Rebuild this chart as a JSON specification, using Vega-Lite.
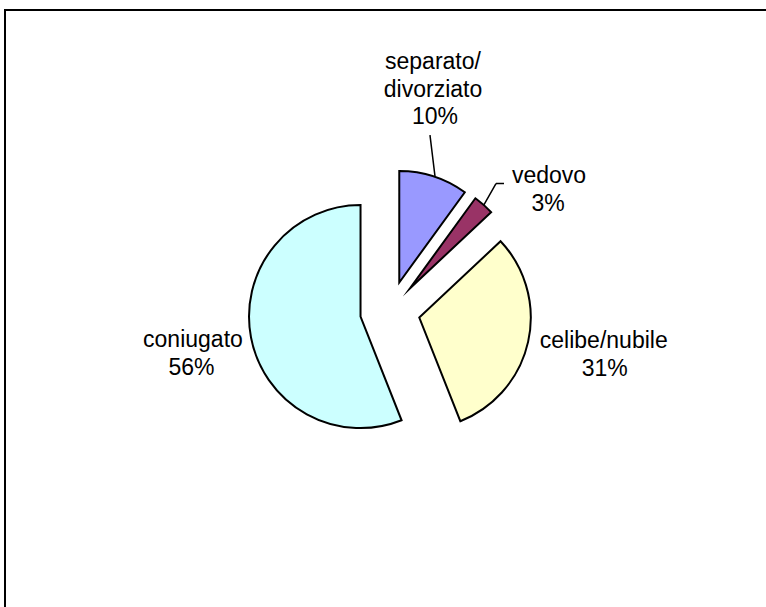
{
  "$schema": "https://vega.github.io/schema/vega-lite/v6.json",
  "width": 770,
  "height": 602,
  "autosize": {"type": "none"},
  "padding": {"left": 5, "top": 10, "right": -9, "bottom": -5},
  "background": "white",
  "view": {"stroke": "black", "strokeWidth": 2, "fill": "white"},
  "config": {
    "view": {"stroke": "black", "strokeWidth": 2},
    "text": {"font": "Liberation Sans", "fontSize": 23, "color": "black"}
  },
  "data": {
    "values": [
      {"category": "separato/divorziato", "name": "separato/\ndivorziato", "share": 0.10, "order": 1},
      {"category": "vedovo", "name": "vedovo", "share": 0.03, "order": 2},
      {"category": "celibe/nubile", "name": "celibe/nubile", "share": 0.31, "order": 3},
      {"category": "coniugato", "name": "coniugato", "share": 0.56, "order": 4}
    ]
  },
  "layer": [
    {
      "transform": [
        {"stack": "share", "groupby": [], "sort": [{"field": "order", "order": "ascending"}], "as": ["v0", "v1"]},
        {"filter": "datum.category === 'separato/divorziato'"}
      ],
      "mark": {"type": "arc", "radius": 111.5, "stroke": "black", "strokeWidth": 2, "strokeJoin": "miter", "strokeMiterLimit": 12, "xOffset": 9.27, "yOffset": -28.53},
      "encoding": {
        "theta": {"field": "v0", "type": "quantitative", "scale": {"domain": [0, 1]}},
        "theta2": {"field": "v1"},
        "color": {"field": "category", "type": "nominal", "legend": null,
          "scale": {"domain": ["separato/divorziato", "vedovo", "celibe/nubile", "coniugato"], "range": ["#9999FF", "#993366", "#FFFFCC", "#CCFFFF"]}}
      }
    },
    {
      "transform": [
        {"stack": "share", "groupby": [], "sort": [{"field": "order", "order": "ascending"}], "as": ["v0", "v1"]},
        {"filter": "datum.category === 'vedovo'"}
      ],
      "mark": {"type": "arc", "radius": 111.5, "stroke": "black", "strokeWidth": 2, "strokeJoin": "miter", "strokeMiterLimit": 12, "xOffset": 19.84, "yOffset": -22.51},
      "encoding": {
        "theta": {"field": "v0", "type": "quantitative", "scale": {"domain": [0, 1]}},
        "theta2": {"field": "v1"},
        "color": {"field": "category", "type": "nominal", "legend": null}
      }
    },
    {
      "transform": [
        {"stack": "share", "groupby": [], "sort": [{"field": "order", "order": "ascending"}], "as": ["v0", "v1"]},
        {"filter": "datum.category === 'celibe/nubile'"}
      ],
      "mark": {"type": "arc", "radius": 111.5, "stroke": "black", "strokeWidth": 2, "strokeJoin": "miter", "strokeMiterLimit": 12, "xOffset": 29.28, "yOffset": 6.54},
      "encoding": {
        "theta": {"field": "v0", "type": "quantitative", "scale": {"domain": [0, 1]}},
        "theta2": {"field": "v1"},
        "color": {"field": "category", "type": "nominal", "legend": null}
      }
    },
    {
      "transform": [
        {"stack": "share", "groupby": [], "sort": [{"field": "order", "order": "ascending"}], "as": ["v0", "v1"]},
        {"filter": "datum.category === 'coniugato'"}
      ],
      "mark": {"type": "arc", "radius": 111.5, "stroke": "black", "strokeWidth": 2, "strokeJoin": "miter", "strokeMiterLimit": 12, "xOffset": -29.47, "yOffset": 5.62},
      "encoding": {
        "theta": {"field": "v0", "type": "quantitative", "scale": {"domain": [0, 1]}},
        "theta2": {"field": "v1"},
        "color": {"field": "category", "type": "nominal", "legend": null}
      }
    },
    {
      "transform": [{"filter": "datum.category === 'separato/divorziato'"}],
      "mark": {"type": "arc", "radius": 61.3, "radius2": 20, "filled": false, "stroke": "black", "strokeWidth": 1.5, "xOffset": 47.4, "yOffset": -115.1},
      "encoding": {
        "theta": {"datum": 0.9807, "type": "quantitative", "scale": {"domain": [0, 1]}},
        "theta2": {"datum": 0.9807}
      }
    },
    {
      "transform": [{"filter": "datum.category === 'vedovo'"}],
      "mark": {"type": "arc", "radius": 45.3, "radius2": 20, "filled": false, "stroke": "black", "strokeWidth": 1.5, "xOffset": 83.6, "yOffset": -88.1},
      "encoding": {
        "theta": {"datum": 0.0822, "type": "quantitative", "scale": {"domain": [0, 1]}},
        "theta2": {"datum": 0.0822}
      }
    },
    {
      "transform": [{"filter": "datum.category === 'vedovo'"}],
      "mark": {"type": "arc", "radius": 28, "radius2": 20, "filled": false, "stroke": "black", "strokeWidth": 1.5, "xOffset": 86, "yOffset": -127.5},
      "encoding": {
        "theta": {"datum": 0.25, "type": "quantitative", "scale": {"domain": [0, 1]}},
        "theta2": {"datum": 0.25}
      }
    },
    {
      "mark": {"type": "text", "radius": 199, "dx": -18.5, "dy": -59.5, "lineBreak": "\n", "lineHeight": 27.5},
      "encoding": {
        "theta": {"field": "share", "type": "quantitative", "stack": true, "scale": {"domain": [0, 1]}},
        "order": {"field": "order", "type": "quantitative"},
        "text": {"condition": {"test": "datum.category === 'separato/divorziato'", "field": "name"}, "value": ""}
      }
    },
    {
      "mark": {"type": "text", "radius": 199, "dx": -16.5, "dy": -4.5},
      "encoding": {
        "theta": {"field": "share", "type": "quantitative", "stack": true, "scale": {"domain": [0, 1]}},
        "order": {"field": "order", "type": "quantitative"},
        "text": {"condition": {"test": "datum.category === 'separato/divorziato'", "field": "share", "type": "quantitative", "format": ".0%"}, "value": ""}
      }
    },
    {
      "mark": {"type": "text", "radius": 180, "dx": 40, "dy": 0},
      "encoding": {
        "theta": {"field": "share", "type": "quantitative", "stack": true, "scale": {"domain": [0, 1]}},
        "order": {"field": "order", "type": "quantitative"},
        "text": {"condition": {"test": "datum.category === 'vedovo'", "field": "name"}, "value": ""}
      }
    },
    {
      "mark": {"type": "text", "radius": 180, "dx": 39, "dy": 28},
      "encoding": {
        "theta": {"field": "share", "type": "quantitative", "stack": true, "scale": {"domain": [0, 1]}},
        "order": {"field": "order", "type": "quantitative"},
        "text": {"condition": {"test": "datum.category === 'vedovo'", "field": "share", "type": "quantitative", "format": ".0%"}, "value": ""}
      }
    },
    {
      "mark": {"type": "text", "radius": 218, "dx": 1, "dy": -17.5},
      "encoding": {
        "theta": {"field": "share", "type": "quantitative", "stack": true, "scale": {"domain": [0, 1]}},
        "order": {"field": "order", "type": "quantitative"},
        "text": {"condition": {"test": "datum.category === 'celibe/nubile'", "field": "name"}, "value": ""}
      }
    },
    {
      "mark": {"type": "text", "radius": 218, "dx": 2, "dy": 10.5},
      "encoding": {
        "theta": {"field": "share", "type": "quantitative", "stack": true, "scale": {"domain": [0, 1]}},
        "order": {"field": "order", "type": "quantitative"},
        "text": {"condition": {"test": "datum.category === 'celibe/nubile'", "field": "share", "type": "quantitative", "format": ".0%"}, "value": ""}
      }
    },
    {
      "mark": {"type": "text", "radius": 200, "dx": -0.6, "dy": -8.5},
      "encoding": {
        "theta": {"field": "share", "type": "quantitative", "stack": true, "scale": {"domain": [0, 1]}},
        "order": {"field": "order", "type": "quantitative"},
        "text": {"condition": {"test": "datum.category === 'coniugato'", "field": "name"}, "value": ""}
      }
    },
    {
      "mark": {"type": "text", "radius": 200, "dx": -2, "dy": 19.5},
      "encoding": {
        "theta": {"field": "share", "type": "quantitative", "stack": true, "scale": {"domain": [0, 1]}},
        "order": {"field": "order", "type": "quantitative"},
        "text": {"condition": {"test": "datum.category === 'coniugato'", "field": "share", "type": "quantitative", "format": ".0%"}, "value": ""}
      }
    }
  ]
}
